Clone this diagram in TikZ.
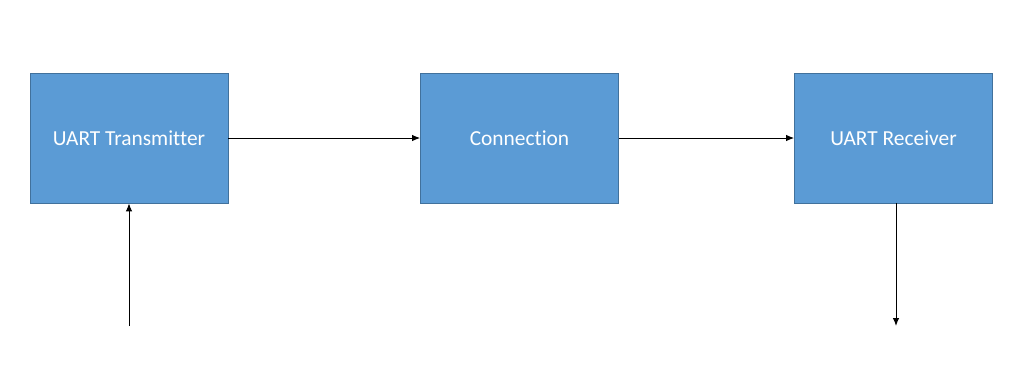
\documentclass[tikz,border=0pt]{standalone}
\usepackage{fontspec}
\setmainfont[Ligatures=NoCommon]{Carlito}
\usetikzlibrary{arrows.meta,positioning}
\definecolor{blockBlue}{HTML}{5B9BD5}
\definecolor{blockEdge}{HTML}{41719C}

\begin{document}
\begin{tikzpicture}[
    x=1pt, y=-1pt,
    every node/.style={font=\fontsize{21.4}{25}\selectfont, align=center},
    block/.style={draw=blockEdge, line width=0.8pt, fill=blockBlue, text=white, minimum width=198pt, minimum height=130pt, inner sep=0pt},
    flow/.style={-{Latex[length=8pt,width=6.5pt]}, line width=1pt, color=black}
  ]
    \useasboundingbox (0,0) rectangle (1028,389);
    \node[block] (tx) at (129,138) {UART Transmitter};
    \node[block] (conn) at (519.5,138) {Connection};
    \node[block] (rx) at (893.5,138) {UART Receiver};
    \coordinate (txin) at (129,326);
    \coordinate (rxout) at (896,326);

    \draw[flow] (tx) -- (conn);
    \draw[flow] (conn) -- (rx);
    \draw[flow] (txin) -- (tx.south);
    \draw[flow] (rx.south -| rxout) -- (rxout);
  \end{tikzpicture}
\end{document}
